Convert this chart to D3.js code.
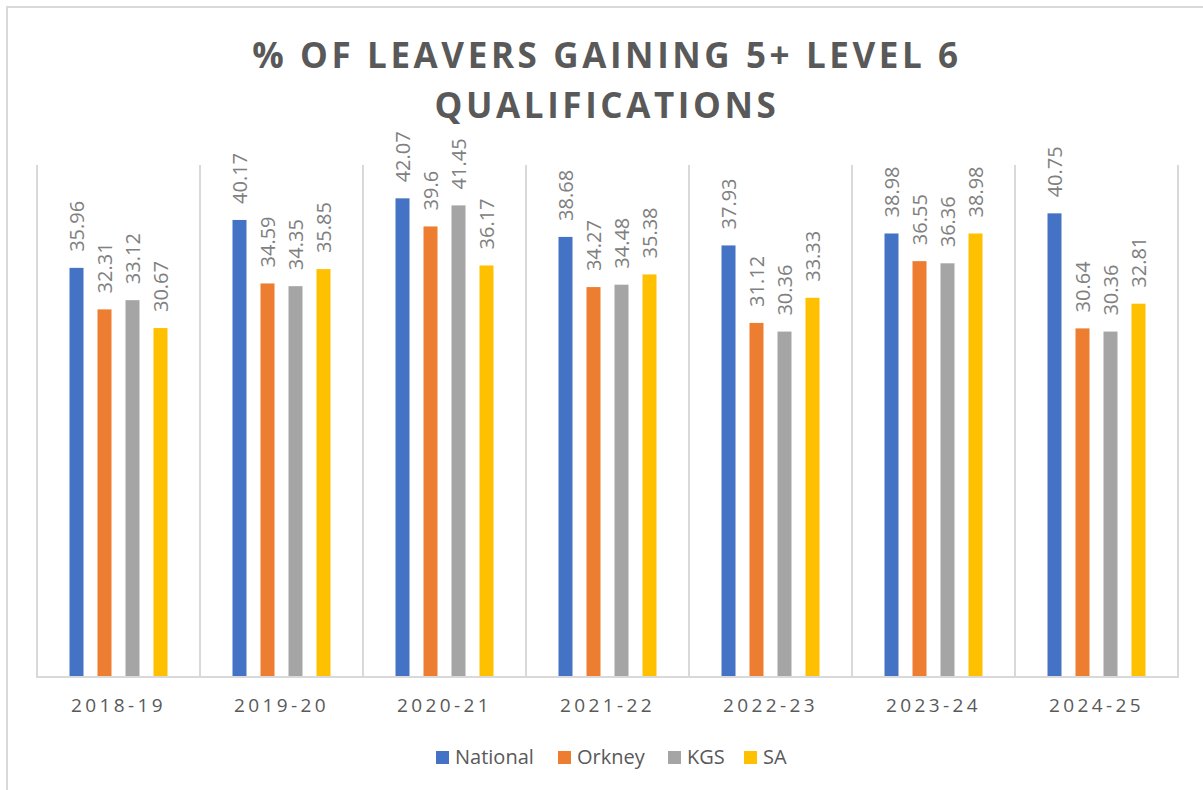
<!DOCTYPE html>
<html>
<head>
<meta charset="utf-8">
<script src="https://cdn.jsdelivr.net/npm/d3@7"></script>
<style>
  html, body { margin: 0; padding: 0; background: #fff; }
  svg { display: block; font-family: "Open Sans", "Noto Sans", sans-serif; }
</style>
</head>
<body>
<svg id="chart" width="1203" height="790"></svg>
<script>
// School years on the x axis
const categories = ["2018-19", "2019-20", "2020-21", "2021-22", "2022-23", "2023-24", "2024-25"];
const seriesNames = ["National", "Orkney", "KGS", "SA"];
const seriesColors = ["#4472C4", "#ED7D31", "#A5A5A5", "#FFC000"];

// % of leavers gaining 5+ awards at SCQF level 6
const nationalValues = [35.96, 40.17, 42.07, 38.68, 37.93, 38.98, 40.75];
const orkneyValues   = [32.31, 34.59, 39.6, 34.27, 31.12, 36.55, 30.64];
const kgsValues      = [33.12, 34.35, 41.45, 34.48, 30.36, 36.36, 30.36];
const saValues       = [30.67, 35.85, 36.17, 35.38, 33.33, 38.98, 32.81];

const titleLines = ["% OF LEAVERS GAINING 5+ LEVEL 6", "QUALIFICATIONS"];

const seriesValues = [nationalValues, orkneyValues, kgsValues, saValues];
const rows = categories.map((c, i) => ({
  category: c,
  values: seriesNames.map((s, j) => ({ series: s, value: seriesValues[j][i] }))
}));

const svg = d3.select("#chart");

// chart frame
svg.append("rect")
  .attr("x", 7).attr("y", 7)
  .attr("width", 1220).attr("height", 800)
  .attr("fill", "#fff")
  .attr("stroke", "#D9D9D9").attr("stroke-width", 2);

const plot = { left: 37, right: 1178, top: 165, bottom: 677 };

const x0 = d3.scaleBand().domain(categories).range([plot.left, plot.right]).padding(0);
const groupW = 98;
const x1 = d3.scaleBand().domain(seriesNames)
  .range([(x0.bandwidth() - groupW) / 2, (x0.bandwidth() + groupW) / 2])
  .paddingInner(0.5).paddingOuter(0);
const y = d3.scaleLinear().domain([0, 45]).range([plot.bottom, plot.top]);
const color = d3.scaleOrdinal().domain(seriesNames).range(seriesColors);

// vertical separators between categories
const seps = d3.range(categories.length + 1).map(i => plot.left + i * x0.step());
svg.append("g").selectAll("line").data(seps).join("line")
  .attr("x1", d => d).attr("x2", d => d)
  .attr("y1", plot.top).attr("y2", plot.bottom)
  .attr("stroke", "#D9D9D9").attr("stroke-width", 2);

// bars
const groups = svg.append("g").selectAll("g").data(rows).join("g")
  .attr("transform", d => `translate(${x0(d.category)},0)`);

groups.selectAll("rect").data(d => d.values).join("rect")
  .attr("x", d => x1(d.series))
  .attr("width", x1.bandwidth())
  .attr("y", d => y(d.value))
  .attr("height", d => y(0) - y(d.value))
  .attr("fill", d => color(d.series));

// rotated value labels above bars
groups.selectAll("text").data(d => d.values).join("text")
  .attr("transform", d => `translate(${x1(d.series) + x1.bandwidth() / 2},${y(d.value) - 16}) rotate(-90)`)
  .attr("dy", "0.36em")
  .attr("text-anchor", "start")
  .attr("font-size", 20)
  .attr("fill", "#808080")
  .text(d => d.value);

// x axis baseline
svg.append("line")
  .attr("x1", plot.left - 1).attr("x2", plot.right + 1)
  .attr("y1", plot.bottom).attr("y2", plot.bottom)
  .attr("stroke", "#D9D9D9").attr("stroke-width", 2);

// category labels
const xAxis = d3.axisBottom(x0).tickSize(0).tickPadding(0);
const axisG = svg.append("g").attr("transform", `translate(0,${plot.bottom})`).call(xAxis);
axisG.select(".domain").remove();
axisG.selectAll("text")
  .attr("y", 35).attr("dy", 0)
  .attr("font-family", "\"Open Sans\", sans-serif")
  .attr("font-size", 19)
  .attr("letter-spacing", "3.4px")
  .attr("fill", "#595959");

// title
svg.append("g").selectAll("text").data(titleLines).join("text")
  .attr("x", 607)
  .attr("y", (d, i) => 68 + i * 50)
  .attr("text-anchor", "middle")
  .attr("font-size", 35)
  .attr("font-weight", "bold")
  .attr("letter-spacing", "3.6px")
  .attr("fill", "#595959")
  .text(d => d);

// legend
const legendX = [436, 558, 668, 744];
const legend = svg.append("g").selectAll("g").data(seriesNames).join("g")
  .attr("transform", (d, i) => `translate(${legendX[i]},751)`);
legend.append("rect").attr("width", 13).attr("height", 13).attr("fill", d => color(d));
legend.append("text")
  .attr("x", 19).attr("y", 13)
  .attr("font-size", 20)
  .attr("fill", "#595959")
  .text(d => d);
</script>
</body>
</html>
